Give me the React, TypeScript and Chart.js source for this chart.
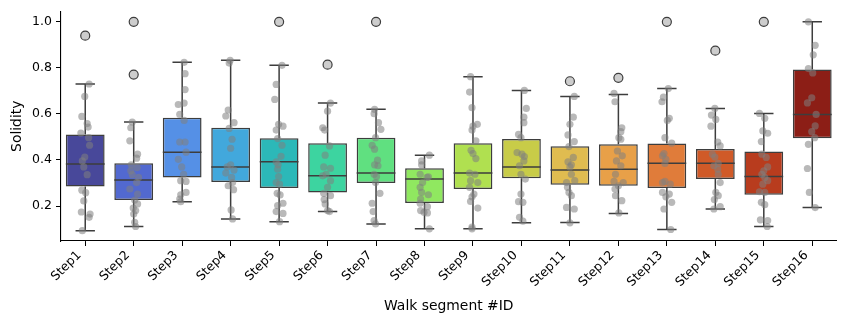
import React, { useEffect, useRef } from 'react';
import { Chart, registerables } from 'chart.js';

Chart.register(...registerables);

const categories = ['Step1', 'Step2', 'Step3', 'Step4', 'Step5', 'Step6', 'Step7', 'Step8',
  'Step9', 'Step10', 'Step11', 'Step12', 'Step13', 'Step14', 'Step15', 'Step16'];

const whiskerLow = [0.093, 0.111, 0.219, 0.144, 0.132, 0.176, 0.122, 0.101, 0.101, 0.127, 0.128, 0.167, 0.098, 0.187, 0.111, 0.193];
const q1 = [0.285, 0.226, 0.324, 0.304, 0.278, 0.259, 0.300, 0.213, 0.274, 0.321, 0.292, 0.288, 0.278, 0.317, 0.249, 0.494];
const median = [0.382, 0.313, 0.434, 0.370, 0.392, 0.331, 0.343, 0.317, 0.343, 0.370, 0.356, 0.360, 0.386, 0.386, 0.328, 0.598];
const q3 = [0.511, 0.386, 0.583, 0.540, 0.494, 0.473, 0.496, 0.364, 0.473, 0.491, 0.460, 0.468, 0.472, 0.448, 0.437, 0.793];
const whiskerHigh = [0.730, 0.565, 0.824, 0.833, 0.811, 0.647, 0.620, 0.421, 0.762, 0.702, 0.676, 0.684, 0.710, 0.624, 0.602, 1.0];

const outliers = [[0.94], [1.0, 0.771], [], [], [1.0], [0.814], [1.0], [], [], [], [0.742], [0.757], [1.0], [0.875], [1.0], []];

const boxColors = ['#48489a', '#5269d0', '#5590e6', '#42a8dc', '#2cb8b8', '#3dd4a0', '#60e080', '#90e860',
  '#b0e050', '#c8cc48', '#e0bc50', '#e8a048', '#e07c3a', '#d05a28', '#b83c1e', '#8c1e16'];

const stripValues = [
  [0.730, 0.676, 0.589, 0.558, 0.543, 0.517, 0.497, 0.464, 0.413, 0.396, 0.370, 0.336, 0.269, 0.258, 0.222, 0.174, 0.165, 0.151, 0.093],
  [0.565, 0.540, 0.483, 0.425, 0.408, 0.379, 0.367, 0.353, 0.336, 0.324, 0.302, 0.274, 0.252, 0.226, 0.209, 0.191, 0.180, 0.165, 0.129, 0.111],
  [0.824, 0.775, 0.706, 0.641, 0.647, 0.598, 0.572, 0.478, 0.478, 0.434, 0.403, 0.370, 0.338, 0.310, 0.307, 0.259, 0.249, 0.230, 0.219],
  [0.833, 0.821, 0.617, 0.591, 0.562, 0.537, 0.490, 0.451, 0.379, 0.370, 0.356, 0.343, 0.324, 0.302, 0.288, 0.271, 0.183, 0.144],
  [0.811, 0.728, 0.663, 0.555, 0.547, 0.530, 0.493, 0.464, 0.416, 0.392, 0.379, 0.360, 0.328, 0.302, 0.295, 0.255, 0.248, 0.212, 0.202, 0.176, 0.168, 0.132],
  [0.647, 0.612, 0.540, 0.530, 0.461, 0.421, 0.370, 0.364, 0.338, 0.331, 0.310, 0.281, 0.255, 0.245, 0.228, 0.209, 0.180, 0.176],
  [0.620, 0.601, 0.562, 0.533, 0.497, 0.464, 0.447, 0.399, 0.379, 0.375, 0.338, 0.328, 0.302, 0.255, 0.212, 0.176, 0.137, 0.122],
  [0.421, 0.396, 0.379, 0.338, 0.327, 0.324, 0.302, 0.281, 0.259, 0.249, 0.230, 0.212, 0.197, 0.180, 0.173, 0.170, 0.101],
  [0.762, 0.695, 0.627, 0.555, 0.547, 0.530, 0.483, 0.442, 0.428, 0.406, 0.343, 0.338, 0.310, 0.302, 0.281, 0.252, 0.240, 0.220, 0.191, 0.108, 0.101],
  [0.702, 0.624, 0.586, 0.562, 0.511, 0.497, 0.432, 0.425, 0.415, 0.396, 0.375, 0.338, 0.317, 0.252, 0.219, 0.216, 0.151, 0.134],
  [0.676, 0.586, 0.555, 0.509, 0.480, 0.458, 0.411, 0.392, 0.379, 0.370, 0.338, 0.310, 0.302, 0.281, 0.259, 0.245, 0.194, 0.187, 0.127],
  [0.689, 0.653, 0.540, 0.523, 0.497, 0.490, 0.439, 0.418, 0.396, 0.375, 0.338, 0.307, 0.302, 0.288, 0.274, 0.245, 0.223, 0.170],
  [0.710, 0.673, 0.653, 0.581, 0.572, 0.497, 0.473, 0.428, 0.418, 0.403, 0.385, 0.307, 0.302, 0.295, 0.259, 0.252, 0.240, 0.216, 0.187, 0.098],
  [0.624, 0.595, 0.576, 0.547, 0.478, 0.461, 0.425, 0.413, 0.385, 0.375, 0.360, 0.338, 0.302, 0.259, 0.245, 0.228, 0.197, 0.187],
  [0.602, 0.581, 0.526, 0.516, 0.480, 0.425, 0.411, 0.370, 0.353, 0.338, 0.324, 0.310, 0.295, 0.262, 0.259, 0.216, 0.206, 0.140, 0.137, 0.111],
  [1.0, 0.898, 0.857, 0.797, 0.778, 0.670, 0.648, 0.598, 0.548, 0.523, 0.497, 0.468, 0.363, 0.259, 0.193],
];

const stripJitter = [
  [0.08, -0.01, -0.07, 0.04, 0.06, -0.09, 0.07, 0.09, -0.01, -0.06, -0.03, 0.04, -0.07, 0.01, -0.03, -0.08, 0.10, 0.08, -0.06],
  [-0.03, -0.06, -0.08, 0.08, 0.06, -0.05, 0.07, -0.06, -0.03, 0.10, 0.06, -0.08, 0.08, 0.02, 0.08, -0.01, 0.04, 0.0, 0.02, 0.04],
  [0.04, 0.06, 0.06, -0.08, 0.04, -0.05, 0.04, -0.05, 0.06, 0.08, -0.08, -0.01, 0.03, -0.03, 0.08, 0.08, -0.03, -0.05, -0.03],
  [-0.01, -0.03, -0.05, -0.10, 0.07, -0.03, 0.03, 0.0, 0.0, -0.07, 0.07, -0.10, 0.02, 0.04, -0.05, 0.06, 0.01, 0.04],
  [0.06, -0.06, -0.09, -0.01, 0.08, -0.06, -0.03, 0.06, 0.04, -0.06, -0.02, -0.03, -0.01, -0.06, 0.01, -0.04, 0.02, 0.08, -0.03, -0.06, 0.08, 0.01],
  [0.06, 0.0, -0.10, -0.06, 0.04, -0.05, -0.08, 0.06, -0.03, -0.10, 0.06, 0.0, -0.08, 0.06, -0.07, -0.05, 0.0, 0.04],
  [-0.03, -0.04, 0.05, 0.10, -0.01, -0.08, -0.03, 0.03, -0.03, 0.04, -0.04, 0.01, -0.01, 0.08, -0.08, -0.06, -0.04, -0.01],
  [0.10, -0.06, -0.06, -0.09, 0.08, 0.05, -0.04, -0.09, -0.06, 0.08, -0.08, -0.09, 0.06, -0.08, -0.01, 0.06, 0.10],
  [-0.05, -0.07, -0.02, 0.09, 0.0, -0.02, 0.06, -0.04, 0.0, 0.06, -0.07, 0.04, -0.05, 0.10, -0.07, 0.02, -0.02, -0.05, 0.10, -0.02, -0.02],
  [0.06, 0.10, 0.05, 0.05, -0.06, -0.01, -0.09, 0.01, 0.06, 0.05, -0.04, -0.01, 0.08, -0.01, -0.06, 0.03, -0.04, 0.03],
  [0.09, 0.07, 0.0, -0.04, 0.09, -0.02, 0.07, -0.04, 0.03, 0.0, 0.03, 0.10, -0.07, -0.05, -0.02, 0.03, -0.07, 0.09, 0.0],
  [-0.09, -0.07, 0.07, 0.05, 0.01, 0.05, -0.02, 0.08, -0.04, 0.05, -0.06, -0.09, 0.10, 0.0, -0.07, -0.06, 0.07, 0.01],
  [0.03, -0.07, -0.10, 0.05, 0.01, -0.04, 0.10, -0.06, -0.09, -0.02, -0.04, -0.04, -0.09, 0.07, -0.09, 0.05, -0.02, 0.10, -0.06, 0.08],
  [-0.01, -0.08, 0.01, -0.09, 0.05, 0.10, -0.06, -0.01, 0.06, -0.03, 0.05, 0.06, 0.10, 0.01, 0.06, -0.02, 0.10, -0.03],
  [-0.09, 0.02, -0.02, 0.08, -0.05, -0.04, 0.05, 0.08, 0.0, -0.04, 0.02, 0.08, -0.02, -0.09, 0.02, -0.05, 0.02, -0.07, 0.08, 0.07],
  [-0.08, 0.06, 0.02, -0.08, 0.01, -0.01, -0.10, 0.08, 0.06, -0.01, 0.05, -0.08, -0.10, -0.06, 0.06],
];

const yTicks = [0.2, 0.4, 0.6, 0.8, 1.0];
const xTitle = 'Walk segment #ID';
const yTitle = 'Solidity';

const EDGE = '#3d3d3d';
const BOX_WIDTH = 0.8;

const whiskerPlugin = {
  id: 'boxWhiskers',
  afterDatasetDraw(chart: any, args: any) {
    if (args.index !== 0) return;
    const { ctx } = chart;
    const xs = chart.scales.x;
    const ys = chart.scales.y;
    const half = (xs.getPixelForValue(1) - xs.getPixelForValue(0)) * BOX_WIDTH / 2;
    ctx.save();
    ctx.strokeStyle = EDGE;
    ctx.lineWidth = 1.5;
    ctx.lineCap = 'butt';
    categories.forEach((_, i) => {
      const cx = xs.getPixelForValue(i);
      const yLo = ys.getPixelForValue(whiskerLow[i]);
      const yQ1 = ys.getPixelForValue(q1[i]);
      const yMed = ys.getPixelForValue(median[i]);
      const yQ3 = ys.getPixelForValue(q3[i]);
      const yHi = ys.getPixelForValue(whiskerHigh[i]);
      ctx.beginPath();
      ctx.moveTo(cx, yQ1);
      ctx.lineTo(cx, yLo);
      ctx.moveTo(cx, yQ3);
      ctx.lineTo(cx, yHi);
      ctx.moveTo(cx - half / 2, yLo);
      ctx.lineTo(cx + half / 2, yLo);
      ctx.moveTo(cx - half / 2, yHi);
      ctx.lineTo(cx + half / 2, yHi);
      ctx.moveTo(cx - half, yMed);
      ctx.lineTo(cx + half, yMed);
      ctx.stroke();
    });
    ctx.restore();
  },
};

export default function App() {
  const ref = useRef<HTMLCanvasElement | null>(null);

  useEffect(() => {
    if (!ref.current) return;
    Chart.defaults.font.family = '"DejaVu Sans", sans-serif';
    Chart.defaults.color = '#000';

    const boxData = categories.map((_, i) => ({ x: i, y: [q1[i], q3[i]] }));
    const stripData: { x: number; y: number }[] = [];
    stripValues.forEach((vals, i) => {
      vals.forEach((v, j) => stripData.push({ x: i + stripJitter[i][j], y: v }));
    });
    const outlierData: { x: number; y: number }[] = [];
    outliers.forEach((vals, i) => vals.forEach((v) => outlierData.push({ x: i, y: v })));

    const chart = new Chart(ref.current, {
      type: 'bar',
      data: {
        datasets: [
          {
            type: 'bar',
            data: boxData as any,
            backgroundColor: boxColors,
            borderColor: EDGE,
            borderWidth: 1.5,
            borderSkipped: false,
            barPercentage: 1,
            categoryPercentage: BOX_WIDTH,
            order: 3,
          } as any,
          {
            type: 'scatter',
            data: stripData,
            pointRadius: 3.6,
            pointBackgroundColor: 'rgba(128,128,128,0.55)',
            pointBorderWidth: 0,
            showLine: false,
            order: 2,
          } as any,
          {
            type: 'scatter',
            data: outlierData,
            pointRadius: 4.5,
            pointBackgroundColor: '#cdcdcd',
            pointBorderColor: EDGE,
            pointBorderWidth: 1.2,
            showLine: false,
            order: 1,
          } as any,
        ],
      },
      options: {
        responsive: false,
        animation: false,
        devicePixelRatio: 1,
        layout: { padding: { top: 10, right: 9.5, left: 0, bottom: 0 } },
        plugins: {
          legend: { display: false },
          tooltip: { enabled: false },
        },
        scales: {
          x: {
            type: 'linear',
            min: -0.5,
            max: 15.5,
            offset: false,
            afterBuildTicks: (scale: any) => {
              scale.ticks = categories.map((_, i) => ({ value: i }));
            },
            afterFit: (scale: any) => {
              scale.height = 84;
            },
            grid: { drawOnChartArea: false, drawTicks: true, tickLength: 5, color: '#000', offset: false },
            border: { display: true, color: '#000', width: 1.1 },
            ticks: {
              autoSkip: false,
              maxRotation: 45,
              minRotation: 45,
              padding: 2,
              labelOffset: -6,
              font: { size: 12.5 },
              color: '#000',
              callback: (v: any) => categories[Math.round(Number(v))] ?? '',
            },
            title: {
              display: true,
              text: xTitle,
              font: { size: 13.9 },
              color: '#000',
              padding: { top: 0, bottom: 10 },
            },
          },
          y: {
            type: 'linear',
            min: 0.048,
            max: 1.045,
            afterBuildTicks: (scale: any) => {
              scale.ticks = yTicks.map((v) => ({ value: v }));
            },
            afterFit: (scale: any) => {
              scale.width = 61;
            },
            grid: { drawOnChartArea: false, drawTicks: true, tickLength: 5, color: '#000' },
            border: { display: true, color: '#000', width: 1.1 },
            ticks: {
              padding: 4,
              font: { size: 12.5 },
              color: '#000',
              callback: (v: any) => Number(v).toFixed(1),
            },
            title: {
              display: true,
              text: yTitle,
              font: { size: 13.9 },
              color: '#000',
              padding: { top: 9, bottom: 0 },
            },
          },
        },
      } as any,
      plugins: [whiskerPlugin],
    });

    return () => chart.destroy();
  }, []);

  return (
    <div style={{ position: 'fixed', left: 0, top: 0, width: 846, height: 325, background: '#fff' }}>
      <canvas ref={ref} width={846} height={325} style={{ display: 'block', width: 846, height: 325 }} />
    </div>
  );
}
